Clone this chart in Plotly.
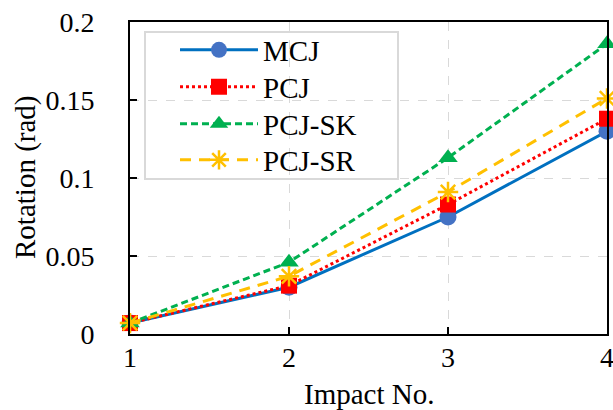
import plotly.graph_objects as go

impact = [1, 2, 3, 4]
mcj = [0.007, 0.030, 0.075, 0.130]
pcj = [0.007, 0.031, 0.083, 0.138]
pcj_sk = [0.007, 0.046, 0.113, 0.186]
pcj_sr = [0.007, 0.037, 0.091, 0.151]
y_ticks = [0, 0.05, 0.1, 0.15, 0.2]
y_tick_text = ["0", "0.05", "0.1", "0.15", "0.2"]

series = [
    ("MCJ", mcj, dict(color="#0070C0", width=3, dash="solid"),
     dict(symbol="circle", size=17, color="#4472C4")),
    ("PCJ", pcj, dict(color="#FF0000", width=3, dash="3px,3px"),
     dict(symbol="square", size=16, color="#FF0000")),
    ("PCJ-SK", pcj_sk, dict(color="#00B050", width=3, dash="7px,4px"),
     dict(symbol="triangle-up", size=17, color="#00B050")),
    ("PCJ-SR", pcj_sr, dict(color="#FFC000", width=3, dash="11px,8px"),
     dict(symbol="asterisk-open", size=17, color="#FFC000",
          line=dict(color="#FFC000", width=2.5))),
]

font = "Liberation Serif, Times New Roman, serif"
W, H = 613, 410
L, R, T, B = 130, 6, 22, 76
pw, ph = W - L - R, H - T - B
legend_rows = [50, 87, 124, 160]

fig = go.Figure()
legends = {}
for i, (name, vals, line, marker) in enumerate(series):
    key = "legend" if i == 0 else f"legend{i + 1}"
    fig.add_trace(go.Scatter(x=impact, y=vals, name=name, mode="lines+markers",
                             line=line, marker=marker, cliponaxis=False,
                             legend=key))
    legends[key] = dict(x=(175 - L) / pw, y=(H - B - legend_rows[i]) / ph,
                        xanchor="left", yanchor="middle",
                        bgcolor="rgba(0,0,0,0)", borderwidth=0,
                        font=dict(size=29, family=font), itemwidth=78)

fig.update_layout(
    width=W, height=H,
    margin=dict(l=L, r=R, t=T, b=B, autoexpand=False),
    plot_bgcolor="white", paper_bgcolor="white",
    font=dict(family=font, size=28, color="black"),
    showlegend=True,
    **legends,
    xaxis=dict(range=[1, 4], tickvals=impact, ticktext=[str(v) for v in impact],
               showline=True, linecolor="black", linewidth=2, mirror=True,
               ticks="inside", ticklen=7, tickwidth=1.5, tickcolor="black",
               showgrid=True, gridcolor="#D9D9D9", griddash="dash", gridwidth=1,
               zeroline=False, automargin=False, ticklabelstandoff=-3,
               ticklabeloverflow="allow"),
    yaxis=dict(range=[0, 0.2], tickvals=y_ticks, ticktext=y_tick_text,
               showline=True, linecolor="black", linewidth=2, mirror=True,
               ticks="inside", ticklen=7, tickwidth=1.5, tickcolor="black",
               showgrid=True, gridcolor="#D9D9D9", griddash="dash", gridwidth=1,
               zeroline=False, automargin=False, ticklabelstandoff=28,
               ticklabeloverflow="allow"),
    annotations=[
        dict(text="Impact No.", xref="paper", yref="paper", x=0.5,
             y=(H - B - 394) / ph, xanchor="center", yanchor="middle",
             showarrow=False, font=dict(size=29)),
        dict(text="Rotation (rad)", xref="paper", yref="paper",
             x=(25 - L) / pw, y=0.5, xanchor="center", yanchor="middle",
             textangle=-90, showarrow=False, font=dict(size=29)),
    ],
    shapes=[
        dict(type="rect", xref="paper", yref="paper",
             x0=(145 - L) / pw, x1=(398 - L) / pw,
             y0=(H - B - 179) / ph, y1=(H - B - 32) / ph,
             line=dict(color="#D9D9D9", width=2), fillcolor="rgba(0,0,0,0)",
             layer="above"),
    ],
)
fig.write_html("out.html")
